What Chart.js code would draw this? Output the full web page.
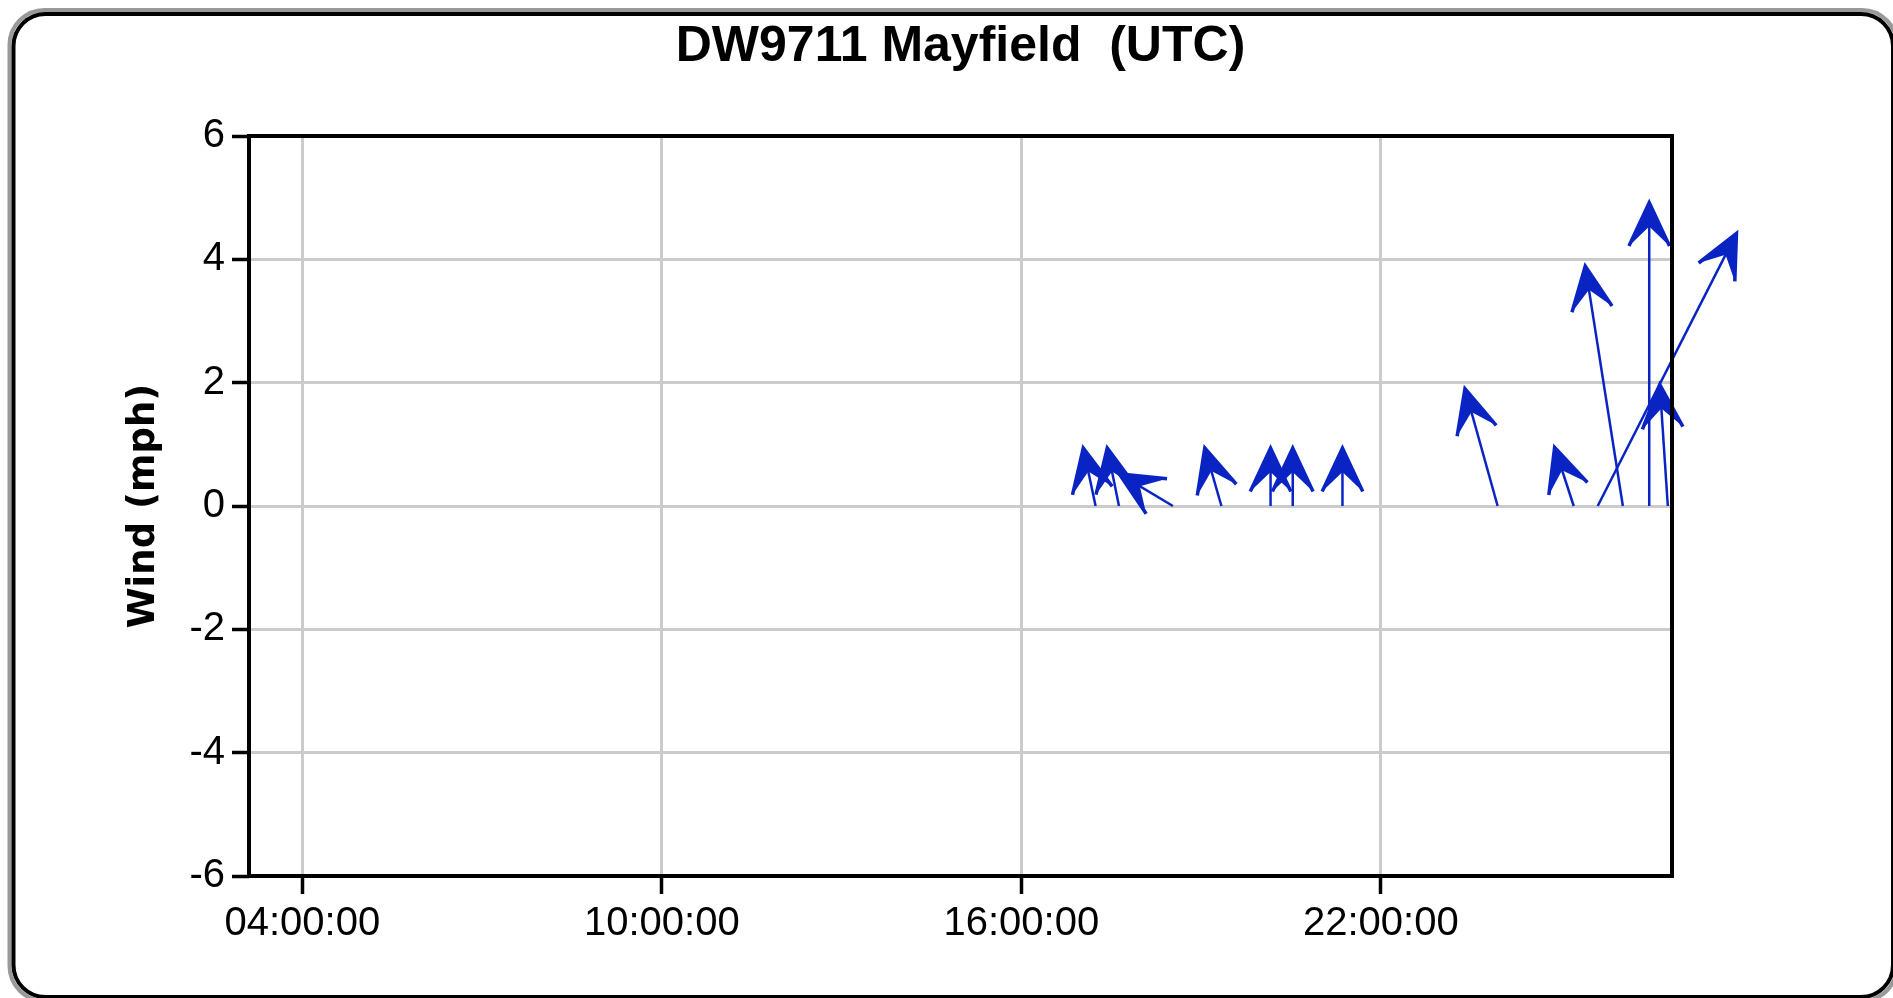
<!DOCTYPE html>
<html>
<head>
<meta charset="utf-8">
<title>DW9711 Mayfield wind</title>
<script src="https://cdn.jsdelivr.net/npm/chart.js@4.4.1/dist/chart.umd.min.js"></script>
<style>
  html, body { margin: 0; padding: 0; background: #fff; overflow: hidden; }
  canvas { display: block; }
</style>
</head>
<body>
<canvas id="windChart" width="1893" height="998"></canvas>
<script>
// Observation times in hours after midnight of the first day (values past 24 fall on the next day)
const obsHours = [17.24, 17.63, 18.53, 19.34, 20.16, 20.53, 21.36, 23.95, 25.22, 25.62, 26.04, 26.48, 26.79];
// Wind components in mph: east-west (u) and north-south (v)
const windU = [-0.20, -0.19, -0.87, -0.27, 0.00, 0.00, 0.00, -0.53, -0.31, 2.25, -0.61, 0.00, -0.13];
const windV = [0.94, 0.94, 0.52, 0.94, 0.94, 0.94, 0.94, 1.90, 0.95, 4.42, 3.89, 4.92, 1.97];
// Axis ticks and ranges
const timeTicks = [4, 10, 16, 22];
const timeRange = [3.11, 26.86];
const windRange = [-6, 6];
const windStep = 2;

const ARROW_COLOR = '#0a24c4';
const GRID_COLOR = '#cbcbcb';

function hourLabel(h) {
  const hh = ((Math.round(h) % 24) + 24) % 24;
  return String(hh).padStart(2, '0') + ':00:00';
}

// White card with a rounded double border behind the chart
const frame = {
  id: 'frame',
  beforeDraw(chart) {
    const { ctx, width, height } = chart;
    ctx.save();
    ctx.fillStyle = '#fff';
    ctx.fillRect(0, 0, width, height);
    const r = 32;
    const rr = (x0, y0, x1, y1, rad) => {
      ctx.beginPath();
      ctx.moveTo(x0 + rad, y0);
      ctx.arcTo(x1, y0, x1, y1, rad);
      ctx.arcTo(x1, y1, x0, y1, rad);
      ctx.arcTo(x0, y1, x0, y0, rad);
      ctx.arcTo(x0, y0, x1, y0, rad);
      ctx.closePath();
    };
    ctx.lineWidth = 4;
    ctx.strokeStyle = '#999';
    rr(9.5, 10, 1897, 1001, r + 3);
    ctx.stroke();
    ctx.strokeStyle = '#000';
    rr(13.5, 14, 1893, 997, r);
    ctx.stroke();
    ctx.restore();
  }
};

// Wind vectors: shaft from (time, 0) to the tip, with a barbed arrowhead
const windArrows = {
  id: 'windArrows',
  afterDatasetsDraw(chart) {
    const { ctx } = chart;
    const ys = chart.scales.y;
    const meta = chart.getDatasetMeta(0);
    const pxPerMph = Math.abs(ys.getPixelForValue(1) - ys.getPixelForValue(0));
    const headLen = 48, headHalf = 25 * Math.PI / 180, notch = 24;
    ctx.save();
    ctx.strokeStyle = ARROW_COLOR;
    ctx.fillStyle = ARROW_COLOR;
    ctx.lineJoin = 'miter';
    ctx.lineCap = 'butt';
    meta.data.forEach((pt, i) => {
      const x0 = pt.x, y0 = pt.y;
      const x1 = x0 + windU[i] * pxPerMph;
      const y1 = ys.getPixelForValue(windV[i]);
      const ang = Math.atan2(y1 - y0, x1 - x0);
      const lx = x1 - headLen * Math.cos(ang - headHalf);
      const ly = y1 - headLen * Math.sin(ang - headHalf);
      const rx = x1 - headLen * Math.cos(ang + headHalf);
      const ry = y1 - headLen * Math.sin(ang + headHalf);
      const nx = x1 - notch * Math.cos(ang);
      const ny = y1 - notch * Math.sin(ang);
      ctx.lineWidth = 2.5;
      ctx.beginPath();
      ctx.moveTo(x0, y0);
      ctx.lineTo(x1, y1);
      ctx.stroke();
      ctx.beginPath();
      ctx.moveTo(x1, y1);
      ctx.lineTo(lx, ly);
      ctx.lineTo(nx, ny);
      ctx.lineTo(rx, ry);
      ctx.closePath();
      ctx.fill();
      ctx.lineWidth = 3.5;
      ctx.beginPath();
      ctx.moveTo(lx, ly);
      ctx.lineTo(x1, y1);
      ctx.lineTo(rx, ry);
      ctx.stroke();
    });
    ctx.restore();
  }
};

// Black box around the plotting area
const plotBox = {
  id: 'plotBox',
  afterDraw(chart) {
    const { ctx, chartArea: a } = chart;
    ctx.save();
    ctx.strokeStyle = '#000';
    ctx.lineWidth = 4;
    ctx.strokeRect(a.left, a.top, a.right - a.left, a.bottom - a.top);
    ctx.restore();
  }
};

new Chart(document.getElementById('windChart'), {
  type: 'scatter',
  data: {
    datasets: [{
      label: 'Wind',
      data: obsHours.map(h => ({ x: h, y: 0 })),
      pointRadius: 0,
      pointHoverRadius: 0,
      showLine: false
    }]
  },
  options: {
    responsive: false,
    devicePixelRatio: 1,
    animation: false,
    events: [],
    layout: { padding: { left: 0, right: 221, top: 0, bottom: 0 } },
    plugins: {
      legend: { display: false },
      tooltip: { enabled: false },
      title: {
        display: true,
        fullSize: false,
        text: 'DW9711 Mayfield  (UTC)',
        color: '#000',
        font: { family: "'Liberation Sans', sans-serif", size: 50, weight: 'bold', lineHeight: 1.2 },
        padding: { top: 17, bottom: 59 }
      }
    },
    scales: {
      x: {
        type: 'linear',
        min: timeRange[0],
        max: timeRange[1],
        afterBuildTicks: (scale) => { scale.ticks = timeTicks.map(v => ({ value: v })); },
        afterFit: (scale) => { scale.height = 122; },
        border: { display: false },
        grid: { color: GRID_COLOR, lineWidth: 3, tickColor: '#000', tickWidth: 3.5, tickLength: 18 },
        ticks: {
          color: '#000',
          padding: 6,
          maxRotation: 0,
          autoSkip: false,
          font: { family: "'Liberation Sans', sans-serif", size: 40 },
          callback: (v) => hourLabel(v)
        }
      },
      y: {
        type: 'linear',
        min: windRange[0],
        max: windRange[1],
        afterFit: (scale) => { scale.width = 249; },
        border: { display: false },
        grid: { color: GRID_COLOR, lineWidth: 3, tickColor: '#000', tickWidth: 3.5, tickLength: 17 },
        ticks: {
          stepSize: windStep,
          color: '#000',
          padding: 7,
          font: { family: "'Liberation Sans', sans-serif", size: 40 }
        },
        title: {
          display: true,
          text: 'Wind (mph)',
          color: '#000',
          font: { family: "'DejaVu Sans', sans-serif", size: 37, weight: 'bold', lineHeight: 1.2 },
          padding: { top: 122, bottom: 0 }
        }
      }
    }
  },
  plugins: [frame, windArrows, plotBox]
});
</script>
</body>
</html>
